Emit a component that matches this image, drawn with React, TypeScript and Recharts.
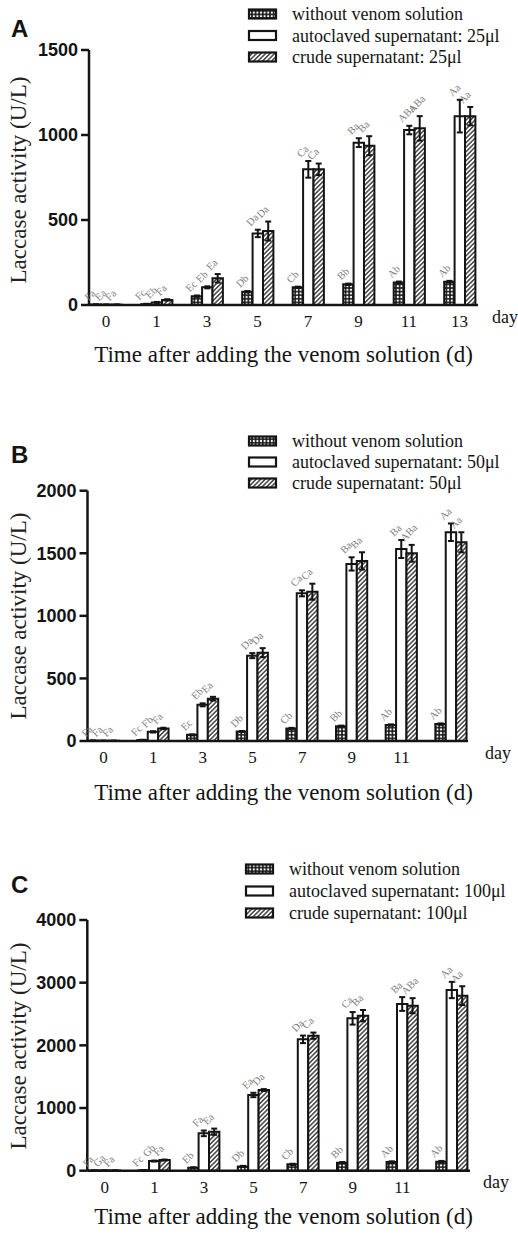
import React from "react";
import { BarChart, Bar, XAxis, YAxis, ErrorBar, LabelList } from "recharts";

const DAYS = ["0", "1", "3", "5", "7", "9", "11", "13"];
const TICKS_A = ["0", "1", "3", "5", "7", "9", "11", "13"];
const TICKS_BC = ["0", "1", "3", "5", "7", "9", "11", ""];

// panel A, 25 µl
const WITHOUT_A = [3, 5, 52, 78, 104, 122, 133, 137];
const WITHOUT_ERR_A = [1, 2, 4, 4, 4, 4, 5, 5];
const AUTO_A = [2, 15, 104, 421, 798, 955, 1029, 1111];
const AUTO_ERR_A = [1, 3, 6, 22, 49, 26, 25, 96];
const CRUDE_A = [2, 30, 157, 435, 798, 937, 1039, 1111];
const CRUDE_ERR_A = [1, 4, 25, 56, 34, 56, 72, 54];
const LAB_WITHOUT_A = ["Fa", "Fc", "Ec", "Db", "Cb", "Bb", "Ab", "Ab"];
const LAB_AUTO_A = ["Ea", "Eb", "Eb", "Da", "Ca", "Ba", "ABa", "Aa"];
const LAB_CRUDE_A = ["Fa", "Fa", "Ea", "Da", "Ca", "Ba", "ABa", "Aa"];

// panel B, 50 µl
const WITHOUT_B = [3, 8, 49, 76, 100, 118, 128, 135];
const WITHOUT_ERR_B = [1, 2, 4, 4, 5, 5, 5, 6];
const AUTO_B = [2, 73, 289, 682, 1180, 1415, 1534, 1668];
const AUTO_ERR_B = [1, 5, 12, 20, 24, 53, 72, 70];
const CRUDE_B = [2, 100, 338, 706, 1193, 1439, 1500, 1588];
const CRUDE_ERR_B = [1, 6, 15, 36, 64, 69, 67, 80];
const LAB_WITHOUT_B = ["Fa", "Fc", "Ec", "Db", "Cb", "Bb", "Ab", "Ab"];
const LAB_AUTO_B = ["Fa", "Fb", "Eb", "Da", "Ca", "Ba", "Ba", "Aa"];
const LAB_CRUDE_B = ["Fa", "Fa", "Ea", "Da", "Ca", "Ba", "ABa", "Aa"];

// panel C, 100 µl
const WITHOUT_C = [3, 6, 48, 69, 101, 128, 138, 144];
const WITHOUT_ERR_C = [2, 3, 8, 8, 10, 10, 12, 12];
const AUTO_C = [3, 154, 596, 1208, 2096, 2431, 2660, 2883];
const AUTO_ERR_C = [2, 8, 45, 35, 60, 100, 110, 130];
const CRUDE_C = [3, 170, 622, 1287, 2154, 2474, 2633, 2793];
const CRUDE_ERR_C = [2, 8, 50, 15, 50, 90, 120, 150];
const LAB_WITHOUT_C = ["Fa", "Fc", "Eb", "Db", "Cb", "Bb", "Ab", "Ab"];
const LAB_AUTO_C = ["Ga", "Gb", "Fa", "Ea", "Da", "Ca", "Ba", "Aa"];
const LAB_CRUDE_C = ["Fa", "Fa", "Ea", "Da", "Ca", "Ba", "ABa", "Aa"];

const SERIF = "'Liberation Serif', 'Times New Roman', serif";
const SANS = "'Liberation Sans', Arial, sans-serif";
const W = 518;
const INK = "#141414";

const panels = [
  {
    letter: "A", dose: "25μl", ticks: TICKS_A, yMax: 1500, yTicks: [0, 500, 1000, 1500],
    without: WITHOUT_A, withoutErr: WITHOUT_ERR_A, auto: AUTO_A, autoErr: AUTO_ERR_A,
    crude: CRUDE_A, crudeErr: CRUDE_ERR_A,
    labW: LAB_WITHOUT_A, labA: LAB_AUTO_A, labC: LAB_CRUDE_A,
    top: 0, height: 400, pt: 50, pb: 305, al: 89, ar: 478, padL: -8.3, padR: -6.7,
    letterY: 37, legX: 249, legTextX: 292, legRows: [14, 35.5, 57],
    yLabelY: 180, dayX: 492, dayY: 323, titleY: 362,
  },
  {
    letter: "B", dose: "50μl", ticks: TICKS_BC, yMax: 2000, yTicks: [0, 500, 1000, 1500, 2000],
    without: WITHOUT_B, withoutErr: WITHOUT_ERR_B, auto: AUTO_B, autoErr: AUTO_ERR_B,
    crude: CRUDE_B, crudeErr: CRUDE_ERR_B,
    labW: LAB_WITHOUT_B, labA: LAB_AUTO_B, labC: LAB_CRUDE_B,
    top: 400, height: 400, pt: 490.7, pb: 741, al: 87.5, ar: 468, padL: -8.8, padR: -8,
    letterY: 463, legX: 249, legTextX: 292, legRows: [441, 462, 483],
    yLabelY: 616, dayX: 485, dayY: 759, titleY: 800,
  },
  {
    letter: "C", dose: "100μl", ticks: TICKS_BC, yMax: 4000, yTicks: [0, 1000, 2000, 3000, 4000],
    without: WITHOUT_C, withoutErr: WITHOUT_ERR_C, auto: AUTO_C, autoErr: AUTO_ERR_C,
    crude: CRUDE_C, crudeErr: CRUDE_ERR_C,
    labW: LAB_WITHOUT_C, labA: LAB_AUTO_C, labC: LAB_CRUDE_C,
    top: 800, height: 435, pt: 920, pb: 1170.7, al: 87.3, ar: 470, padL: -7.3, padR: -6.8,
    letterY: 893, legX: 246, legTextX: 289, legRows: [869, 891, 913],
    yLabelY: 1046, dayX: 483, dayY: 1188, titleY: 1224,
  },
];

const FILLS = ["url(#dots)", "#fff", "url(#hatch)"];

// rotated significance letters sitting just above each error bar
function makeLabel(errs: number[], ppu: number) {
  return (props: any) => {
    const vb = props.viewBox || {};
    const x = props.x ?? vb.x;
    const y = props.y ?? vb.y;
    if (x == null || y == null) return null;
    const tx = x - 2;
    const ty = y - (errs[props.index] || 0) * ppu - 3;
    return (
      <text
        x={tx}
        y={ty}
        transform={`rotate(-45 ${tx} ${ty})`}
        fontFamily={SERIF}
        fontSize={10.5}
        fill="#7c7c7c"
      >
        {props.value}
      </text>
    );
  };
}

function Panel({ p }: { p: (typeof panels)[number] }) {
  const data = DAYS.map((d, i) => ({
    day: d,
    without: p.without[i],
    withoutErr: p.withoutErr[i],
    auto: p.auto[i],
    autoErr: p.autoErr[i],
    crude: p.crude[i],
    crudeErr: p.crudeErr[i],
    labW: p.labW[i],
    labA: p.labA[i],
    labC: p.labC[i],
  }));
  const yAxisW = 70;
  const xAxisH = 30;
  const margin = {
    top: p.pt - p.top,
    left: p.al - yAxisW,
    right: W - p.ar,
    bottom: p.height - (p.pb - p.top) - xAxisH,
  };
  const ppu = (p.pb - p.pt) / p.yMax;
  const series = [
    { key: "without", err: "withoutErr", lab: "labW", errs: p.withoutErr },
    { key: "auto", err: "autoErr", lab: "labA", errs: p.autoErr },
    { key: "crude", err: "crudeErr", lab: "labC", errs: p.crudeErr },
  ];

  return (
    <div style={{ position: "absolute", left: 0, top: p.top }}>
      <BarChart width={W} height={p.height} data={data} margin={margin} barGap={0} barSize={10.4}>
        <XAxis
          dataKey="day"
          height={xAxisH}
          interval={0}
          padding={{ left: p.padL, right: p.padR }}
          tickFormatter={(_v: any, i: number) => p.ticks[i]}
          tick={{ fontFamily: SERIF, fontSize: 17, fill: INK }}
          tickLine={false}
          tickSize={4}
          tickMargin={6}
          axisLine={{ stroke: INK, strokeWidth: 2.5 }}
        />
        <YAxis
          width={yAxisW}
          domain={[0, p.yMax]}
          ticks={p.yTicks}
          interval={0}
          tick={{ fontFamily: SANS, fontSize: 18, fontWeight: 700, fill: INK }}
          tickSize={8}
          tickMargin={3}
          tickLine={{ stroke: INK, strokeWidth: 2.5 }}
          axisLine={{ stroke: INK, strokeWidth: 2.5 }}
        />
        {series.map((s, i) => (
          <Bar
            key={s.key}
            dataKey={s.key}
            fill={FILLS[i]}
            stroke={INK}
            strokeWidth={2}
            isAnimationActive={false}
          >
            <ErrorBar dataKey={s.err} width={3} strokeWidth={2} stroke={INK} direction="y" />
            <LabelList dataKey={s.lab} content={makeLabel(s.errs, ppu)} />
          </Bar>
        ))}
      </BarChart>
    </div>
  );
}

export default function App() {
  return (
    <div style={{ position: "absolute", left: 0, top: 0, width: W, height: 1235, background: "#fff" }}>
      {panels.map((p) => (
        <Panel key={p.letter} p={p} />
      ))}
      <svg
        width={W}
        height={1235}
        style={{ position: "absolute", left: 0, top: 0, pointerEvents: "none" }}
      >
        <defs>
          <pattern id="dots" patternUnits="userSpaceOnUse" width="3.6" height="3.6">
            <rect width="3.6" height="3.6" fill="#1c1c1c" />
            <circle cx="1.8" cy="1.8" r="1.1" fill="#fff" />
          </pattern>
          <pattern id="hatch" patternUnits="userSpaceOnUse" width="3.2" height="3.2" patternTransform="rotate(45)">
            <rect width="3.2" height="3.2" fill="#fff" />
            <line x1="1.6" y1="0" x2="1.6" y2="3.2" stroke={INK} strokeWidth="1.2" />
          </pattern>
        </defs>
        {panels.map((p) => {
          const names = [
            "without venom solution",
            `autoclaved supernatant: ${p.dose}`,
            `crude supernatant: ${p.dose}`,
          ];
          return (
            <g key={p.letter}>
              <text x={11} y={p.letterY} fontFamily={SANS} fontWeight={700} fontSize={24} fill={INK}>
                {p.letter}
              </text>
              {names.map((n, i) => (
                <g key={n}>
                  <rect
                    x={p.legX}
                    y={p.legRows[i] - 4.5}
                    width={27}
                    height={9}
                    fill={FILLS[i]}
                    stroke={INK}
                    strokeWidth={2.2}
                  />
                  <text x={p.legTextX} y={p.legRows[i] + 6} fontFamily={SERIF} fontSize={18} fill={INK}>
                    {n}
                  </text>
                </g>
              ))}
              <text
                transform={`translate(18 ${p.yLabelY}) rotate(-90)`}
                textAnchor="middle"
                dominantBaseline="central"
                fontFamily={SERIF}
                fontSize={23}
                fill="#222"
              >
                Laccase activity (U/L)
              </text>
              <text x={p.dayX} y={p.dayY} fontFamily={SERIF} fontSize={18} fill={INK}>
                day
              </text>
              <text x={283.5} y={p.titleY} textAnchor="middle" fontFamily={SERIF} fontSize={23} fill={INK}>
                Time after adding the venom solution (d)
              </text>
            </g>
          );
        })}
      </svg>
    </div>
  );
}
